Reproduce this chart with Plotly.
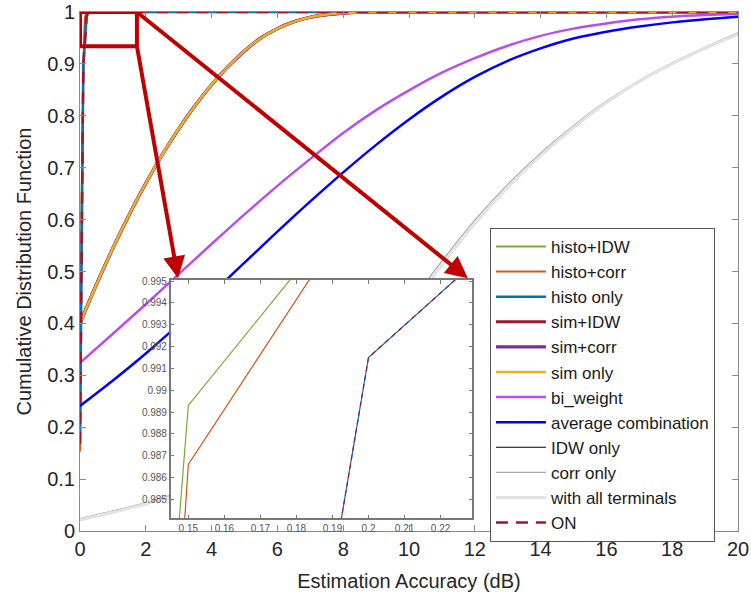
import plotly.graph_objects as go

# ---------------- data ----------------
# near-vertical curves (sampled every 0.05 dB)
x_histo_idw = [0, 0.05, 0.10, 0.15, 0.20, 0.25, 20]
y_histo_idw = [0.160, 0.650, 0.886, 0.9893, 0.9995, 1.0, 1.0]

x_histo_corr = [0, 0.05, 0.10, 0.15, 0.20, 0.25, 20]
y_histo_corr = [0.153, 0.620, 0.862, 0.9866, 0.9992, 1.0, 1.0]

x_histo_only = [0, 0.05, 0.10, 0.15, 0.20, 0.25, 0.30, 20]
y_histo_only = [0.168, 0.600, 0.900, 0.9425, 0.9915, 0.9989, 1.0, 1.0]

x_on = [0, 0.05, 0.10, 0.15, 0.20, 0.25, 0.30, 20]
y_on = [0.168, 0.600, 0.900, 0.9425, 0.9915, 0.9989, 1.0, 1.0]

# simulation based curves (overlapping)
x_sim = [0, 0.5, 1, 1.5, 2, 2.5, 3, 3.5, 4, 4.5, 5, 5.5, 6, 6.5, 7, 7.5, 8, 9, 10, 12, 14, 16, 18, 20]
y_sim_idw = [0.40, 0.475, 0.545, 0.61, 0.67, 0.725, 0.775, 0.82, 0.86, 0.895, 0.925, 0.95,
             0.968, 0.981, 0.99, 0.995, 0.998, 1.0, 1.0, 1.0, 1.0, 1.0, 1.0, 1.0]
y_sim_corr = [0.40, 0.475, 0.545, 0.61, 0.67, 0.725, 0.775, 0.82, 0.86, 0.895, 0.925, 0.95,
              0.968, 0.981, 0.99, 0.995, 0.998, 1.0, 1.0, 1.0, 1.0, 1.0, 1.0, 1.0]
y_sim_only = [0.40, 0.475, 0.545, 0.61, 0.67, 0.725, 0.775, 0.82, 0.86, 0.895, 0.925, 0.95,
              0.968, 0.981, 0.99, 0.995, 0.998, 1.0, 1.0, 1.0, 1.0, 1.0, 1.0, 1.0]

x_int = [0, 1, 2, 3, 4, 5, 6, 7, 8, 9, 10, 11, 12, 13, 14, 15, 16, 17, 18, 19, 20]
y_bi_weight = [0.324, 0.380, 0.437, 0.495, 0.553, 0.610, 0.665, 0.717, 0.767, 0.811, 0.849,
               0.883, 0.911, 0.935, 0.954, 0.968, 0.978, 0.986, 0.991, 0.994, 0.996]
y_average = [0.241, 0.290, 0.342, 0.398, 0.457, 0.517, 0.577, 0.635, 0.691, 0.744, 0.793,
             0.837, 0.875, 0.906, 0.930, 0.949, 0.962, 0.972, 0.980, 0.986, 0.991]
y_idw_only = [0.021, 0.036, 0.052, 0.070, 0.092, 0.120, 0.158, 0.207, 0.270, 0.345, 0.428,
              0.512, 0.592, 0.662, 0.723, 0.777, 0.825, 0.866, 0.900, 0.930, 0.957]
y_corr_only = [0.024, 0.039, 0.055, 0.074, 0.096, 0.125, 0.164, 0.214, 0.278, 0.354, 0.437,
               0.520, 0.599, 0.668, 0.728, 0.781, 0.828, 0.868, 0.902, 0.932, 0.960]
y_all_terminals = [0.021, 0.036, 0.052, 0.070, 0.092, 0.120, 0.158, 0.207, 0.270, 0.345, 0.428,
                   0.512, 0.592, 0.662, 0.723, 0.777, 0.825, 0.866, 0.900, 0.930, 0.957]

x_ticks_main = [0, 2, 4, 6, 8, 10, 12, 14, 16, 18, 20]
y_ticks_main = [0, 0.1, 0.2, 0.3, 0.4, 0.5, 0.6, 0.7, 0.8, 0.9, 1]
x_ticks_inset = [0.15, 0.16, 0.17, 0.18, 0.19, 0.20, 0.21, 0.22]
y_ticks_inset = [0.985, 0.986, 0.987, 0.988, 0.989, 0.99, 0.991, 0.992, 0.993, 0.994, 0.995]

# zoom box and arrows (data coordinates of main axes)
zoom_box_x = [0, 1.73]
zoom_box_y = [0.934, 1.0]
arrow_tails = [(1.73, 0.934), (1.73, 1.0)]
arrow_heads = [(2.98, 0.487), (11.79, 0.487)]

# ---------------- figure ----------------
FONT = "Liberation Sans, Arial, sans-serif"
fig = go.Figure()

def add(x, y, name, color, width, dash="solid", shape="linear"):
    fig.add_trace(go.Scatter(x=x, y=y, mode="lines", name=name,
                             line=dict(color=color, width=width, dash=dash, shape=shape),
                             xaxis="x", yaxis="y"))

add(x_histo_idw, y_histo_idw, "histo+IDW", "#77AC30", 2)
add(x_histo_corr, y_histo_corr, "histo+corr", "#D95319", 2)
add(x_histo_only, y_histo_only, "histo only", "#0072BD", 2.5)
add(x_sim, y_sim_idw, "sim+IDW", "#A2142F", 3.2, shape="spline")
add(x_sim, y_sim_corr, "sim+corr", "#7E2F8E", 3.2, shape="spline")
add(x_sim, y_sim_only, "sim only", "#EDB120", 2.5, shape="spline")
add(x_int, y_bi_weight, "bi_weight", "#B84DF5", 2.5, shape="spline")
add(x_int, y_average, "average combination", "#0000FF", 2.5, shape="spline")
add(x_int, y_idw_only, "IDW only", "#000000", 1, shape="spline")
add(x_int, y_corr_only, "corr only", "#A6A6A6", 1.2, shape="spline")
add(x_int, y_all_terminals, "with all terminals", "#E3E3E3", 3, shape="spline")
add(x_on, y_on, "ON", "#A2142F", 2.5, dash="12px,8px")

# inset traces
for x, y, c, d in [(x_histo_idw, y_histo_idw, "#77AC30", "solid"),
                   (x_histo_corr, y_histo_corr, "#D95319", "solid"),
                   (x_histo_only, y_histo_only, "#0072BD", "solid"),
                   (x_on, y_on, "#A2142F", "5px,4px")]:
    fig.add_trace(go.Scatter(x=x, y=y, mode="lines", showlegend=False,
                             line=dict(color=c, width=1.2, dash=d),
                             xaxis="x2", yaxis="y2"))

axis_gray = "#8a8a8a"
fig.update_layout(
    width=751, height=601,
    margin=dict(l=80, r=13, t=12, b=70, autoexpand=False),
    paper_bgcolor="white", plot_bgcolor="white",
    font=dict(family=FONT, color="#262626"),
    showlegend=True,
    xaxis=dict(domain=[0, 1], range=[0, 20], tickvals=x_ticks_main, automargin=False,
               ticks="inside", ticklen=6, tickcolor=axis_gray,
               showline=True, linecolor=axis_gray, linewidth=1, mirror="ticks",
               showgrid=False, zeroline=False,
               tickfont=dict(size=20, color="#262626"),
               title=dict(text="Estimation Accuracy (dB)", font=dict(size=20), standoff=14)),
    yaxis=dict(domain=[0, 1], range=[0, 1], tickvals=y_ticks_main, automargin=False,
               ticks="inside", ticklen=6, tickcolor=axis_gray,
               showline=True, linecolor=axis_gray, linewidth=1, mirror="ticks",
               showgrid=False, zeroline=False,
               tickfont=dict(size=20, color="#262626"),
               title=dict(text="Cumulative Distribution Function", font=dict(size=20), standoff=10)),
    xaxis2=dict(domain=[0.1378, 0.5962], range=[0.1451, 0.2288], anchor="y2", automargin=False,
                tickvals=x_ticks_inset, ticks="inside", ticklen=4, tickcolor="#777777",
                showline=True, linecolor="#777777", linewidth=1.5, mirror="ticks",
                showgrid=False, zeroline=False,
                tickfont=dict(size=10, color="#555555")),
    yaxis2=dict(domain=[0.0245, 0.4836], range=[0.98413, 0.99505], anchor="x2", automargin=False,
                tickvals=y_ticks_inset, tickformat=".3~f",
                ticks="inside", ticklen=4, tickcolor="#777777",
                showline=True, linecolor="#777777", linewidth=1.5, mirror="ticks",
                showgrid=False, zeroline=False,
                tickfont=dict(size=10, color="#555555")),
    legend=dict(x=0.623, y=0.584, xanchor="left", yanchor="top",
                bgcolor="white", bordercolor="#555555", borderwidth=1,
                font=dict(size=17, color="#1a1a1a"), tracegroupgap=0,
                itemwidth=50),
)

fig.add_shape(type="rect", xref="x", yref="y",
              x0=zoom_box_x[0], x1=zoom_box_x[1], y0=zoom_box_y[0], y1=zoom_box_y[1],
              line=dict(color="#C00000", width=4), layer="above")

for (tx, ty), (hx, hy) in zip(arrow_tails, arrow_heads):
    fig.add_annotation(x=hx, y=hy, ax=tx, ay=ty, xref="x", yref="y", axref="x", ayref="y",
                       text="", showarrow=True, arrowhead=2, arrowsize=1.1,
                       arrowwidth=4, arrowcolor="#C00000", standoff=0, startstandoff=0)

fig.write_html("out.html")
